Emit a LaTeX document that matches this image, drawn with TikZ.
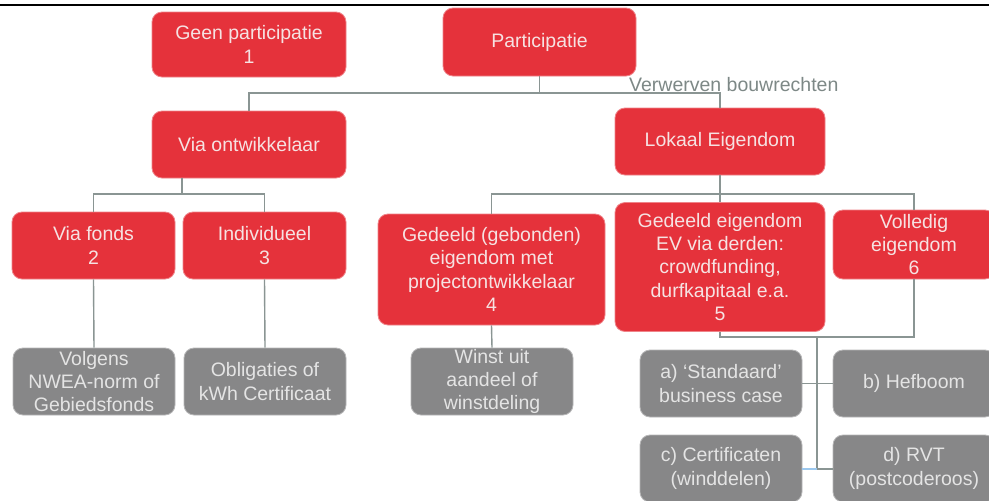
\documentclass[tikz,border=0pt]{standalone}
\usepackage{fontspec}
\setmainfont{Liberation Sans}
\definecolor{boxred}{HTML}{E5323B}
\definecolor{boxgray}{HTML}{878788}
\definecolor{redtxt}{HTML}{F6E2E2}
\definecolor{graytxt}{HTML}{E4E4E4}
\definecolor{conncol}{HTML}{8A9593}
\definecolor{lblcol}{HTML}{7D8886}
\definecolor{lightblue}{HTML}{9CC8EE}
\tikzset{
  basebox/.style={rounded corners=10pt, inner sep=0pt, align=center,
    font=\fontsize{19.5}{23.2}\selectfont, line width=0.8pt},
  redbox/.style={basebox, fill=boxred, draw=boxred!60!white, text=redtxt},
  graybox/.style={basebox, fill=boxgray, draw=boxgray!60!white, text=graytxt},
  conn/.style={draw=conncol, line width=1.4pt},
  bluelink/.style={draw=lightblue, line width=1.4pt},
  lbl/.style={text=lblcol, inner sep=0pt, font=\fontsize{19.5}{23.2}\selectfont},
}
\begin{document}
\begin{tikzpicture}[x=1pt,y=-1pt]
\useasboundingbox (0,0) rectangle (989,501);
\clip (0,0) rectangle (989,501);
\fill[white] (0,0) rectangle (989,501);
% top rule
\coordinate (tl) at (0,5);
\coordinate (tr) at (989,5);
\draw[line width=2.6pt, black] (tl) -- (tr);

% red boxes
\node[redbox, minimum width=194pt, minimum height=65pt] (geen) at (249,44.5) {Geen participatie\\1};
\node[redbox, minimum width=193pt, minimum height=68pt] (part) at (539.5,42) {Participatie};
\node[redbox, minimum width=194pt, minimum height=67pt] (viaont) at (249,144.5) {Via ontwikkelaar};
\node[redbox, minimum width=210pt, minimum height=67pt] (lokaal) at (720,141.5) {Lokaal Eigendom};
\node[redbox, minimum width=163pt, minimum height=67pt] (viafonds) at (93.5,245.5) {Via fonds\\2};
\node[redbox, minimum width=163pt, minimum height=67pt] (indiv) at (264.5,245.5) {Individueel\\3};
\node[redbox, minimum width=227pt, minimum height=111pt] (gebonden) at (491.5,269.5) {Gedeeld (gebonden)\\eigendom met\\projectontwikkelaar\\4};
\node[redbox, minimum width=210pt, minimum height=129pt] (ev) at (720,267) {Gedeeld eigendom\\EV via derden:\\crowdfunding,\\durfkapitaal e.a.\\5};
\node[redbox, minimum width=162pt, minimum height=69pt] (volledig) at (914,244.5) {Volledig\\eigendom\\6};

% gray boxes
\node[graybox, minimum width=162pt, minimum height=67pt] (volgens) at (94,381.5) {Volgens\\NWEA-norm of\\Gebiedsfonds};
\node[graybox, minimum width=162pt, minimum height=67pt] (oblig) at (265,381.5) {Obligaties of\\kWh Certificaat};
\node[graybox, minimum width=162pt, minimum height=67pt] (winst) at (492,381.5) {Winst uit\\aandeel of\\winstdeling};
\node[graybox, minimum width=162pt, minimum height=67pt] (sa) at (721,383.5) {a) `Standaard'\\business case};
\node[graybox, minimum width=162pt, minimum height=67pt] (sb) at (914,383.5) {b) Hefboom};
\node[graybox, minimum width=162pt, minimum height=67pt] (sc) at (721,468.5) {c) Certificaten\\(winddelen)};
\node[graybox, minimum width=162pt, minimum height=67pt] (sd) at (914,468.5) {d) RVT\\(postcoderoos)};

% junctions
\coordinate (j1) at (539.5,93);
\coordinate (j2) at (182,194);
\coordinate (j3) at (720,194);
\coordinate (j5) at (914,337);
\coordinate (j6) at (817,337);
\coordinate (j8) at (817,469);

% label
\node[lbl, anchor=base west] (vb) at (629,91) {Verwerven bouwrechten};

% connectors
\draw[conn] (part.south) -- (j1);
\draw[conn] (viaont.north) |- (j1) -| (lokaal.north);
\draw[conn] (viaont.south -| j2) -- (j2);
\draw[conn] (viafonds.north) |- (j2) -| (indiv.north);
\draw[conn] (viafonds.south) -- (volgens.north);
\draw[conn] (indiv.south) -- (oblig.north);
\draw[conn] (lokaal.south) -- (ev.north);
\draw[conn] (gebonden.north) |- (j3) -| (volledig.north);
\draw[conn] (gebonden.south) -- (winst.north);
\draw[conn] (ev.south) |- (j5) -- (volledig.south);
\draw[conn] (j6) -- (j8);
\draw[conn] (sa.east) -- (sb.west);
\draw[bluelink] (sc.east |- j8) -- (j8);
\draw[conn] (j8) -- (sd.west |- j8);
\end{tikzpicture}
\end{document}
